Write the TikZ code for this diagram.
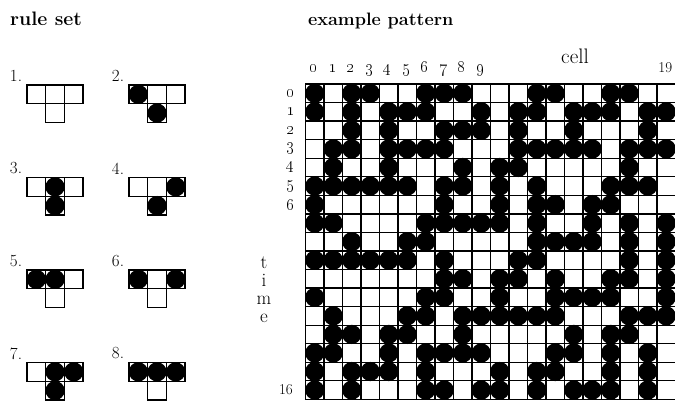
\documentclass[tikz,border=0pt]{standalone}
\begin{document}
\begin{tikzpicture}[x=1pt,y=-1pt,
  gridline/.style={line width=1.3pt,line cap=rect},
  title/.style={anchor=base west,inner sep=0pt,font=\fontsize{18}{18}\selectfont\bfseries},
  rulelabel/.style={anchor=center,inner sep=0pt,font=\fontsize{17}{17}\selectfont},
  idxlabel/.style={anchor=base,inner sep=0pt,font=\fontsize{18}{18}\selectfont},
  rowlabel/.style={anchor=east,inner sep=0pt,font=\fontsize{16}{16}\selectfont},
  numlabel/.style={inner sep=0pt,font=\fontsize{15}{15}\selectfont},
  axislabel/.style={anchor=base,inner sep=0pt,font=\fontsize{21}{21}\selectfont},
  timelabel/.style={anchor=base,inner sep=0pt,align=center,font=\fontsize{19}{18}\selectfont}]
\useasboundingbox (0,0) rectangle (675,402);
\def\cx{18.5}
\def\cy{18.55}
\def\gx{305.5}
\def\gy{84}
\def\rad{9.6pt}
\def\rc{18.7}
% titles
\node[title,font=\fontsize{19.5}{19.5}\selectfont\bfseries] (ttlrule) at (10,25) {rule set};
\node[title] (ttlex) at (308,25) {example pattern};
% rule set
\foreach \n/\x/\y/\a/\b/\c/\d in {1/27/85/0/0/0/0, 2/129/85/1/0/0/1,
  3/27/177.5/0/1/0/1, 4/129/177.5/0/0/1/1,
  5/27/270/1/1/0/0, 6/129/270/1/0/1/0,
  7/27/362.5/0/1/1/1, 8/129/362.5/1/1/1/0}{
  \node[rulelabel] (rl\n) at (\x-11,\y-9) {\n.};
  \ifnum\a=1 \fill (\x+0.5*\rc,\y+0.5*\rc) circle (\rad); \fi
  \ifnum\b=1 \fill (\x+1.5*\rc,\y+0.5*\rc) circle (\rad); \fi
  \ifnum\c=1 \fill (\x+2.5*\rc,\y+0.5*\rc) circle (\rad); \fi
  \ifnum\d=1 \fill (\x+1.5*\rc,\y+1.5*\rc) circle (\rad); \fi
  \draw[gridline] (\x,\y) rectangle (\x+3*\rc,\y+\rc);
  \draw[gridline] (\x+\rc,\y) -- (\x+\rc,\y+2*\rc) -- (\x+2*\rc,\y+2*\rc) -- (\x+2*\rc,\y);
}
% pattern cells
\foreach \row [count=\j from 0] in {
 {1,0,1,1,0,0,1,1,1,0,0,0,1,1,0,0,1,1,0,0},
 {1,0,1,0,1,1,1,0,0,1,0,1,1,0,1,1,1,0,1,1},
 {0,0,1,0,1,0,0,1,1,1,0,1,0,0,1,0,0,0,1,0},
 {0,1,1,0,1,1,1,1,0,0,0,1,1,1,1,1,0,1,1,1},
 {0,1,0,0,1,0,0,0,1,0,1,1,0,0,0,0,0,1,0,0},
 {1,1,1,1,1,1,0,1,1,0,1,0,1,0,0,0,1,1,1,0},
 {1,0,0,0,0,0,0,1,0,0,1,0,1,1,0,1,1,0,0,0},
 {1,1,0,0,0,0,1,1,1,1,1,0,1,0,0,1,0,1,0,1},
 {0,0,1,0,0,1,1,0,0,0,0,0,1,1,1,1,0,1,0,1},
 {1,1,1,1,1,1,0,1,0,0,0,1,1,0,0,0,0,1,0,1},
 {0,0,0,0,0,0,0,1,1,0,1,1,0,1,0,0,1,1,0,1},
 {1,0,0,0,0,0,1,1,0,0,1,0,0,1,1,1,1,0,0,1},
 {0,1,0,0,0,1,1,0,1,1,1,1,1,1,0,0,0,1,1,1},
 {0,1,1,0,1,1,0,0,1,0,0,0,0,0,1,0,1,1,0,0},
 {1,1,0,0,1,0,1,1,1,1,0,0,0,1,1,0,1,0,1,0},
 {1,0,1,1,1,0,1,0,0,0,1,0,1,1,0,0,1,0,1,0},
 {1,0,1,0,0,0,1,1,0,1,1,0,1,0,1,1,1,0,1,0}}{
  \foreach \bit [count=\i from 0] in \row {
    \ifnum\bit=1 \fill (\gx+\cx*\i+0.5*\cx,\gy+\cy*\j+0.5*\cy) circle (\rad); \fi
  }
}
% grid lines
\foreach \i in {0,...,20}
  \draw[gridline] (\gx+\cx*\i,\gy) -- (\gx+\cx*\i,\gy+17*\cy);
\foreach \j in {0,...,17}
  \draw[gridline] (\gx,\gy+\cy*\j) -- (\gx+20*\cx,\gy+\cy*\j);
% column labels
\foreach \i in {0,...,9}
  \node[idxlabel] (col\i) at (\gx+\cx*\i+0.5*\cx-1,72) {\oldstylenums{\i}};
\node[numlabel,anchor=base] (col19) at (\gx+\cx*19.5-1,72) {19};
\node[axislabel] (cell) at (575,63) {cell};
% row labels
\foreach \j in {0,...,6}
  \node[rowlabel] (row\j) at (295,\gy+\cy*\j+0.5*\cy) {\oldstylenums{\j}};
\node[numlabel,anchor=east] (row16) at (293,\gy+\cy*16.5) {16};
\node[timelabel] (time) at (264,322) {t\\i\\m\\e};
\end{tikzpicture}
\end{document}
